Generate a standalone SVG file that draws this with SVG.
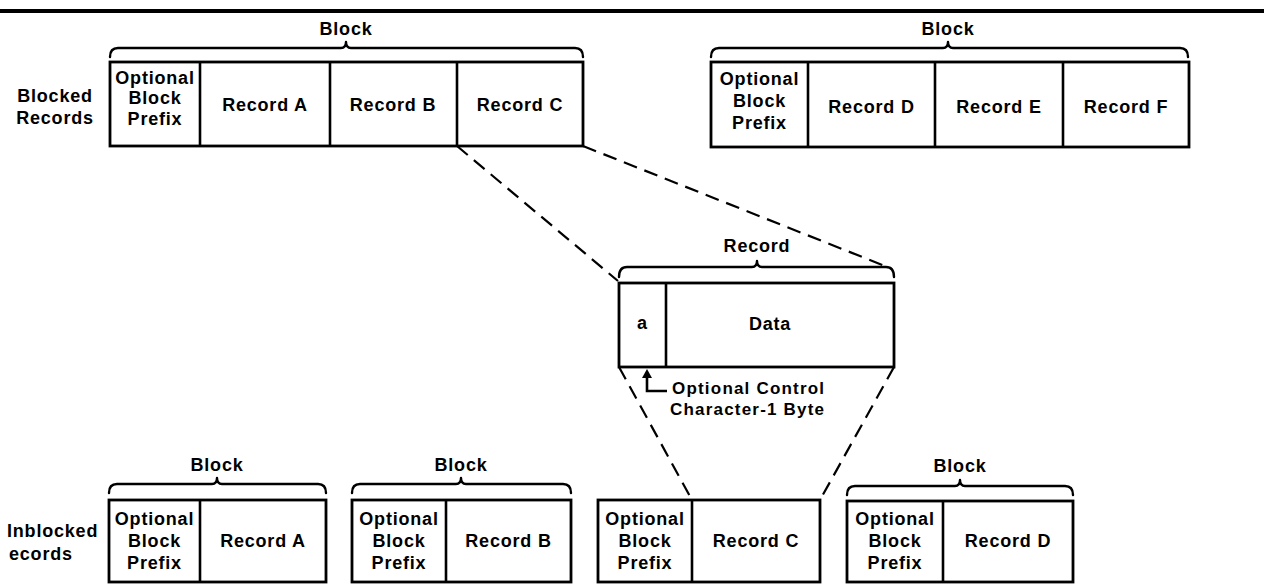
<svg xmlns="http://www.w3.org/2000/svg" width="1264" height="584" viewBox="0 0 1264 584">
<style>
  .box { fill: #fff; stroke: #000; stroke-width: 2.8; }
  .div { stroke: #000; stroke-width: 2.6; fill: none; }
  .brace { fill: none; stroke: #000; stroke-width: 2.4; stroke-linecap: round; stroke-linejoin: round; }
  .dash { fill: none; stroke: #000; stroke-width: 2.2; stroke-dasharray: 14 8; }
  text { font-family: "Liberation Sans", Arial, sans-serif; font-weight: bold; font-size: 18px; letter-spacing: 0.8px; fill: #000; }
  .c { text-anchor: middle; }
  .small { font-size: 17px; letter-spacing: 1.2px; }
</style>
<rect x="0" y="0" width="1264" height="584" fill="#fff"/>
<line x1="0" y1="11" x2="1264" y2="11" stroke="#000" stroke-width="4"/>

<g id="label-blocked">
  <text class="c" x="55" y="101.5">Blocked</text>
  <text class="c" x="55" y="123.5">Records</text>
</g>
<g id="label-unblocked">
  <text x="7" y="536.5">Inblocked</text>
  <text x="9" y="559.5">ecords</text>
</g>

<g id="block-top-left">
  <text class="c" x="346" y="34.5">Block</text>
  <path class="brace" d="M110 57 Q110 48 118 48 L341 48 Q346 48 346 42 Q346 48 351 48 L575 48 Q583 48 583 57"/>
  <rect class="box" x="110" y="62" width="473" height="84"/>
  <line class="div" x1="200" y1="62" x2="200" y2="146"/>
  <line class="div" x1="330" y1="62" x2="330" y2="146"/>
  <line class="div" x1="457" y1="62" x2="457" y2="146"/>
  <text class="c" x="155" y="83.5">Optional</text>
  <text class="c" x="155" y="104">Block</text>
  <text class="c" x="155" y="124.5">Prefix</text>
  <text class="c" x="265" y="110.5">Record A</text>
  <text class="c" x="393" y="110.5">Record B</text>
  <text class="c" x="520" y="110.5">Record C</text>
</g>

<g id="block-top-right">
  <text class="c" x="948" y="34.5">Block</text>
  <path class="brace" d="M711 57 Q711 48 719 48 L943 48 Q948 48 948 42 Q948 48 953 48 L1180 48 Q1188 48 1188 57"/>
  <rect class="box" x="711" y="62" width="478" height="85"/>
  <line class="div" x1="808" y1="62" x2="808" y2="147"/>
  <line class="div" x1="935" y1="62" x2="935" y2="147"/>
  <line class="div" x1="1063" y1="62" x2="1063" y2="147"/>
  <text class="c" x="759.5" y="85">Optional</text>
  <text class="c" x="759.5" y="107">Block</text>
  <text class="c" x="759.5" y="129">Prefix</text>
  <text class="c" x="871.5" y="112.5">Record D</text>
  <text class="c" x="999" y="112.5">Record E</text>
  <text class="c" x="1126" y="112.5">Record F</text>
</g>

<g id="record-detail">
  <text class="c" x="757" y="251.5">Record</text>
  <path class="brace" d="M619 277 Q619 267 627 267 L752 267 Q757 267 757 261 Q757 267 762 267 L886 267 Q894 267 894 277"/>
  <rect class="box" x="619" y="283" width="275" height="84"/>
  <line class="div" x1="666" y1="283" x2="666" y2="367"/>
  <text class="c" x="642.5" y="328.5">a</text>
  <text class="c" x="770" y="329.5">Data</text>
</g>

<g id="control-char-note">
  <path d="M647 369 L642 378 L652 378 Z" fill="#000"/>
  <path class="div" d="M647 376 L647 391 L667 391"/>
  <text class="small" x="672" y="393.5">Optional Control</text>
  <text class="small" x="670" y="414.5">Character-1 Byte</text>
</g>

<g id="block-bottom-1">
  <text class="c" x="217" y="470.5">Block</text>
  <path class="brace" d="M109 493 Q109 484 117 484 L212 484 Q217 484 217 478 Q217 484 222 484 L318 484 Q326 484 326 493"/>
  <rect class="box" x="109" y="500" width="217" height="82"/>
  <line class="div" x1="200" y1="500" x2="200" y2="582"/>
  <text class="c" x="154.5" y="524.5">Optional</text>
  <text class="c" x="154.5" y="546.5">Block</text>
  <text class="c" x="154.5" y="568.5">Prefix</text>
  <text class="c" x="263" y="546.5">Record A</text>
</g>

<g id="block-bottom-2">
  <text class="c" x="461" y="470.5">Block</text>
  <path class="brace" d="M352 493 Q352 484 360 484 L456 484 Q461 484 461 478 Q461 484 466 484 L563 484 Q571 484 571 493"/>
  <rect class="box" x="352" y="500" width="219" height="82"/>
  <line class="div" x1="446" y1="500" x2="446" y2="582"/>
  <text class="c" x="399" y="524.5">Optional</text>
  <text class="c" x="399" y="546.5">Block</text>
  <text class="c" x="399" y="568.5">Prefix</text>
  <text class="c" x="508.5" y="546.5">Record B</text>
</g>

<g id="block-bottom-3">
  <rect class="box" x="598" y="500" width="222" height="82"/>
  <line class="div" x1="692" y1="500" x2="692" y2="582"/>
  <text class="c" x="645" y="524.5">Optional</text>
  <text class="c" x="645" y="546.5">Block</text>
  <text class="c" x="645" y="568.5">Prefix</text>
  <text class="c" x="756" y="546.5">Record C</text>
</g>

<g id="block-bottom-4">
  <text class="c" x="960" y="472">Block</text>
  <path class="brace" d="M847 495 Q847 486 855 486 L955 486 Q960 486 960 480 Q960 486 965 486 L1065 486 Q1073 486 1073 495"/>
  <rect class="box" x="847" y="501" width="226" height="81"/>
  <line class="div" x1="943" y1="501" x2="943" y2="582"/>
  <text class="c" x="895" y="524.5">Optional</text>
  <text class="c" x="895" y="546.5">Block</text>
  <text class="c" x="895" y="568.5">Prefix</text>
  <text class="c" x="1008" y="546.5">Record D</text>
</g>

<g id="connectors">
  <line class="dash" x1="457" y1="146" x2="618" y2="281"/>
  <line class="dash" x1="583" y1="146" x2="890" y2="268"/>
  <line class="dash" x1="619" y1="367" x2="692" y2="500"/>
  <line class="dash" x1="894" y1="367" x2="820" y2="500"/>
</g>
</svg>
